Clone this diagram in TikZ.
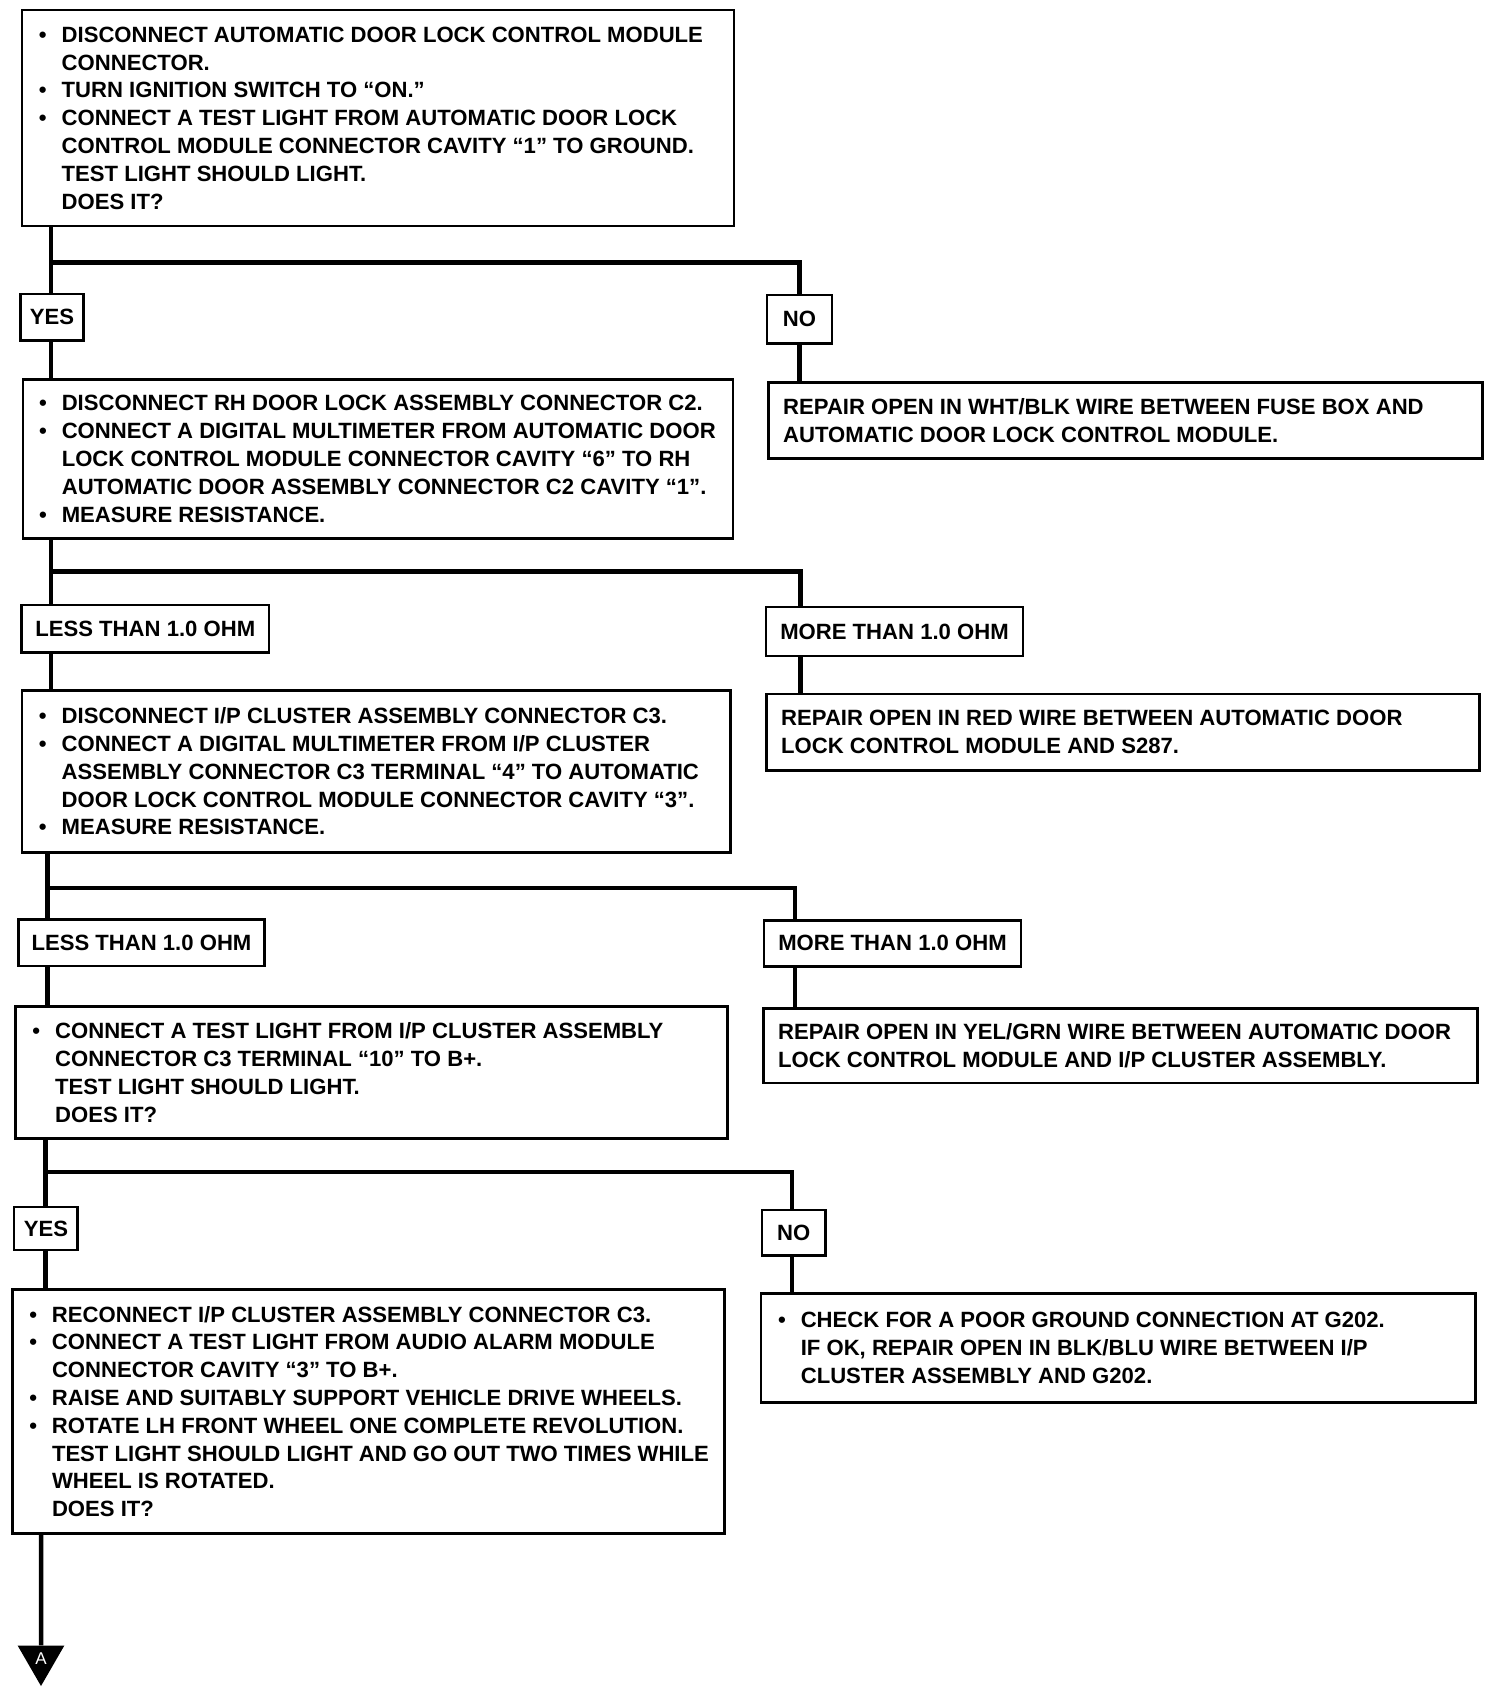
\documentclass[tikz,border=0pt]{standalone}
\usepackage{fontspec}
\setmainfont{Liberation Sans}
\usetikzlibrary{shapes.geometric}
\newcommand\chartfont{\fontsize{22.1pt}{27.8pt}\selectfont\bfseries}
\newcommand\itm{\llap{\textbullet\hspace{15pt}}}
\tikzset{
	stepbox/.style={draw,line width=2.8pt,inner sep=0pt,anchor=north west},
	tagbox/.style={draw,line width=2.8pt,inner sep=0pt,font=\chartfont},
	steptext/.style={anchor=west,inner sep=0pt,align=left,font=\chartfont},
	wire/.style={line width=4.5pt},
}
\begin{document}
\begin{tikzpicture}[x=1pt,y=-1pt]
		\useasboundingbox (0,0) rectangle (1504,1694);
		% first check
		\node[stepbox,minimum width=712pt,minimum height=216pt] (s1) at (20.5,8.6) {};
		\node[steptext] (s1t) at ([xshift=41pt]s1.west) {\itm DISCONNECT AUTOMATIC DOOR LOCK CONTROL MODULE\\
			CONNECTOR.\\
			\itm TURN IGNITION SWITCH TO “ON.”\\
			\itm CONNECT A TEST LIGHT FROM AUTOMATIC DOOR LOCK\\
			CONTROL MODULE CONNECTOR CAVITY “1” TO GROUND.\\
			TEST LIGHT SHOULD LIGHT.\\
			DOES IT?};
		\node[tagbox,minimum width=62.7pt,minimum height=46.5pt] (yes1) at (51.9,317.2) {YES};
		\node[tagbox,minimum width=65pt,minimum height=48.6pt] (no1) at (799.5,319.3) {NO};
		\node[stepbox,minimum width=710pt,minimum height=159pt] (s2) at (21.6,378) {};
		\node[steptext] (s2t) at ([xshift=40pt]s2.west) {\itm DISCONNECT RH DOOR LOCK ASSEMBLY CONNECTOR C2.\\
			\itm CONNECT A DIGITAL MULTIMETER FROM AUTOMATIC DOOR\\
			LOCK CONTROL MODULE CONNECTOR CAVITY “6” TO RH\\
			AUTOMATIC DOOR ASSEMBLY CONNECTOR C2 CAVITY “1”.\\
			\itm MEASURE RESISTANCE.};
		\node[stepbox,minimum width=714pt,minimum height=76pt] (r1) at (767,381) {};
		\node[steptext] (r1t) at ([xshift=16pt]r1.west) {REPAIR OPEN IN WHT/BLK WIRE BETWEEN FUSE BOX AND\\
			AUTOMATIC DOOR LOCK CONTROL MODULE.};
		\coordinate (j1) at (50.8,262.6);
		\draw[wire] (s1.south -| j1) -- (yes1.north -| j1);
		\draw[wire] (j1) -| (no1.north);
		\draw[wire] (yes1.south -| j1) -- (s2.north -| j1);
		\draw[wire] (no1.south) -- (r1.north -| no1.south);
		% resistance, red wire
		\node[tagbox,minimum width=247.4pt,minimum height=47.6pt] (less1) at (145.3,628.8) {LESS THAN 1.0 OHM};
		\node[tagbox,minimum width=257pt,minimum height=49pt] (more1) at (894.5,631.5) {MORE THAN 1.0 OHM};
		\node[stepbox,minimum width=708.5pt,minimum height=162pt] (s3) at (20.5,689) {};
		\node[steptext] (s3t) at ([xshift=41pt]s3.west) {\itm DISCONNECT I/P CLUSTER ASSEMBLY CONNECTOR C3.\\
			\itm CONNECT A DIGITAL MULTIMETER FROM I/P CLUSTER\\
			ASSEMBLY CONNECTOR C3 TERMINAL “4” TO AUTOMATIC\\
			DOOR LOCK CONTROL MODULE CONNECTOR CAVITY “3”.\\
			\itm MEASURE RESISTANCE.};
		\node[stepbox,minimum width=713pt,minimum height=76.4pt] (r2) at (765,692.6) {};
		\node[steptext] (r2t) at ([xshift=16pt]r2.west) {REPAIR OPEN IN RED WIRE BETWEEN AUTOMATIC DOOR\\
			LOCK CONTROL MODULE AND S287.};
		\coordinate (j2) at (50.8,571.6);
		\coordinate (k2) at (800.6,571.6);
		\draw[wire] (s2.south -| j2) -- (less1.north -| j2);
		\draw[wire] (j2) -- (k2) -- (more1.north -| k2);
		\draw[wire] (less1.south -| j2) -- (s3.north -| j2);
		\draw[wire] (more1.south -| k2) -- (r2.north -| k2);
		% resistance, yel/grn wire
		\node[tagbox,minimum width=246.3pt,minimum height=46.5pt] (less2) at (141.5,942.7) {LESS THAN 1.0 OHM};
		\node[tagbox,minimum width=257pt,minimum height=46pt] (more2) at (892.5,943.3) {MORE THAN 1.0 OHM};
		\node[stepbox,minimum width=712pt,minimum height=132pt] (s4) at (14,1005) {};
		\node[steptext] (s4t) at ([xshift=41pt]s4.west) {\itm CONNECT A TEST LIGHT FROM I/P CLUSTER ASSEMBLY\\
			CONNECTOR C3 TERMINAL “10” TO B+.\\
			TEST LIGHT SHOULD LIGHT.\\
			DOES IT?};
		\node[stepbox,minimum width=714pt,minimum height=74.6pt] (r3) at (762,1007) {};
		\node[steptext] (r3t) at ([xshift=16pt]r3.west) {REPAIR OPEN IN YEL/GRN WIRE BETWEEN AUTOMATIC DOOR\\
			LOCK CONTROL MODULE AND I/P CLUSTER ASSEMBLY.};
		\coordinate (j3) at (47.5,888);
		\coordinate (k3) at (795,888);
		\draw[wire] (s3.south -| j3) -- (less2.north -| j3);
		\draw[wire] (j3) -- (k3) -- (more2.north -| k3);
		\draw[wire] (less2.south -| j3) -- (s4.north -| j3);
		\draw[wire] (more2.south -| k3) -- (r3.north -| k3);
		% audio alarm check
		\node[tagbox,minimum width=63.8pt,minimum height=43pt] (yes2) at (45.9,1228.5) {YES};
		\node[tagbox,minimum width=63.5pt,minimum height=45.5pt] (no2) at (793.8,1232.8) {NO};
		\node[stepbox,minimum width=712pt,minimum height=244pt] (s5) at (10.8,1288) {};
		\node[steptext] (s5t) at ([xshift=41pt]s5.west) {\itm RECONNECT I/P CLUSTER ASSEMBLY CONNECTOR C3.\\
			\itm CONNECT A TEST LIGHT FROM AUDIO ALARM MODULE\\
			CONNECTOR CAVITY “3” TO B+.\\
			\itm RAISE AND SUITABLY SUPPORT VEHICLE DRIVE WHEELS.\\
			\itm ROTATE LH FRONT WHEEL ONE COMPLETE REVOLUTION.\\
			TEST LIGHT SHOULD LIGHT AND GO OUT TWO TIMES WHILE\\
			WHEEL IS ROTATED.\\
			DOES IT?};
		\node[stepbox,minimum width=714.4pt,minimum height=109pt] (s6) at (759.6,1292) {};
		\node[steptext] (s6t) at ([xshift=41pt]s6.west) {\itm CHECK FOR A POOR GROUND CONNECTION AT G202.\\
			IF OK, REPAIR OPEN IN BLK/BLU WIRE BETWEEN I/P\\
			CLUSTER ASSEMBLY AND G202.};
		\coordinate (j4) at (45.4,1172);
		\coordinate (k4) at (792,1172);
		\draw[wire] (s4.south -| j4) -- (yes2.north -| j4);
		\draw[wire] (j4) -- (k4) -- (no2.north -| k4);
		\draw[wire] (yes2.south -| j4) -- (s5.north -| j4);
		\draw[wire] (no2.south -| k4) -- (s6.north -| k4);
		% off-page connector
		\node[regular polygon,regular polygon sides=3,shape border rotate=180,fill=black,inner sep=0pt,minimum size=54pt,text=white,font=\fontsize{17pt}{17pt}\selectfont] (pa) at (41,1659) {A};
		\draw[wire] (s5.south -| pa) -- (pa.north);
\end{tikzpicture}
\end{document}
